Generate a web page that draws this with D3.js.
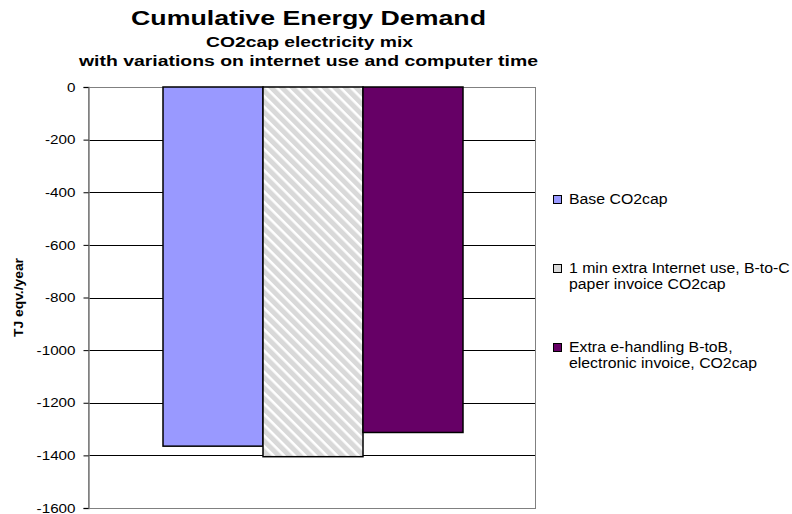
<!DOCTYPE html>
<html>
<head>
<meta charset="utf-8">
<script src="https://cdn.jsdelivr.net/npm/d3@7"></script>
<style>
  html, body { margin: 0; padding: 0; background: #fff; }
  text { font-family: "Liberation Sans", Arial, sans-serif; fill: #000; }
</style>
</head>
<body>
<svg id="chart" width="792" height="514"></svg>
<script>
// Series shown as bars within the single category group
const seriesNames = [
  "Base CO2cap",
  "1 min extra Internet use, B-to-C paper invoice CO2cap",
  "Extra e-handling B-toB, electronic invoice, CO2cap"
];
const legendLines = [
  ["Base CO2cap"],
  ["1 min extra Internet use, B-to-C", "paper invoice CO2cap"],
  ["Extra e-handling B-toB,", "electronic invoice, CO2cap"]
];
const seriesValues = [-1365, -1405, -1313];
const seriesFills = ["#9999ff", "url(#hatch)", "#660066"];
const legendFills = ["#9999ff", "#d9d9d9", "#660066"];
const yTicks = [0, -200, -400, -600, -800, -1000, -1200, -1400, -1600];

const svg = d3.select("#chart");

// widen a text element horizontally by a factor, keeping its glyphs
function stretch(sel, k) {
  sel.each(function() {
    const w = this.getComputedTextLength();
    d3.select(this).attr("textLength", w * k).attr("lengthAdjust", "spacingAndGlyphs");
  });
}

// diagonal stripe pattern for the second series (down-right stripes)
const defs = svg.append("defs");
const pat = defs.append("pattern")
  .attr("id", "hatch")
  .attr("patternUnits", "userSpaceOnUse")
  .attr("width", 7.5).attr("height", 7.5)
  .attr("patternTransform", "rotate(45)");
pat.append("rect").attr("width", 7.5).attr("height", 7.5).attr("fill", "#d9d9d9");
pat.append("rect").attr("x", 0).attr("y", 0).attr("width", 7.5).attr("height", 2.5).attr("fill", "#ffffff");

const plot = { left: 88, right: 535, top: 87, bottom: 508 };

const y = d3.scaleLinear().domain([0, -1600]).range([plot.top, plot.bottom]);
const x = d3.scaleBand().domain(seriesNames)
  .range([163, 463]).paddingInner(0).paddingOuter(0);

// gridlines
svg.append("g").selectAll("line")
  .data(yTicks.filter(d => d !== -1600 && d !== 0))
  .join("line")
  .attr("x1", plot.left).attr("x2", plot.right)
  .attr("y1", d => Math.round(y(d)) + 0.5).attr("y2", d => Math.round(y(d)) + 0.5)
  .attr("stroke", "#000").attr("stroke-width", 1);

// plot border
svg.append("rect")
  .attr("x", plot.left + 0.5).attr("y", plot.top + 0.5)
  .attr("width", plot.right - plot.left).attr("height", plot.bottom - plot.top)
  .attr("fill", "none").attr("stroke", "#808080").attr("stroke-width", 1);

// bars
svg.append("g").selectAll("rect")
  .data(seriesValues)
  .join("rect")
  .attr("x", (d, i) => x(seriesNames[i]))
  .attr("y", y(0))
  .attr("width", x.bandwidth())
  .attr("height", d => y(d) - y(0))
  .attr("fill", (d, i) => seriesFills[i])
  .attr("stroke", "#000").attr("stroke-width", 1.5);

// y axis
const yAxis = d3.axisLeft(y).tickValues(yTicks).tickSize(5).tickPadding(8)
  .tickFormat(d => String(d));
const gy = svg.append("g")
  .attr("transform", `translate(${plot.left + 0.5},0)`)
  .call(yAxis);
gy.select(".domain").attr("stroke", "#808080").attr("stroke-width", 1.5);
gy.selectAll(".tick line").attr("stroke", "#000");
gy.selectAll(".tick text")
  .attr("font-family", "Liberation Sans, Arial, sans-serif")
  .attr("font-size", 13).attr("fill", "#000")
  .call(stretch, 1.17);

// y axis title
svg.append("text")
  .attr("transform", "translate(23,297.5) rotate(-90)")
  .attr("text-anchor", "middle")
  .attr("font-size", 13).attr("font-weight", "bold")
  .attr("textLength", 79).attr("lengthAdjust", "spacingAndGlyphs")
  .text("TJ eqv./year");

// titles
svg.append("text").attr("x", 308.5).attr("y", 25)
  .attr("text-anchor", "middle").attr("font-size", 21).attr("font-weight", "bold")
  .attr("textLength", 355).attr("lengthAdjust", "spacingAndGlyphs")
  .text("Cumulative Energy Demand");
svg.append("text").attr("x", 309.5).attr("y", 47)
  .attr("text-anchor", "middle").attr("font-size", 14.5).attr("font-weight", "bold")
  .attr("textLength", 207).attr("lengthAdjust", "spacingAndGlyphs")
  .text("CO2cap electricity mix");
svg.append("text").attr("x", 308.5).attr("y", 66)
  .attr("text-anchor", "middle").attr("font-size", 14.5).attr("font-weight", "bold")
  .attr("textLength", 459).attr("lengthAdjust", "spacingAndGlyphs")
  .text("with variations on internet use and computer time");

// legend
const legendY = [204, 273, 352];
const lg = svg.append("g").selectAll("g")
  .data(legendLines)
  .join("g")
  .attr("transform", (d, i) => `translate(553,${legendY[i]})`);
lg.append("rect")
  .attr("x", 0.5).attr("y", -8.5).attr("width", 8).attr("height", 8)
  .attr("fill", (d, i) => legendFills[i])
  .attr("stroke", "#000").attr("stroke-width", 1);
lg.each(function(lines) {
  const g = d3.select(this);
  lines.forEach((ln, j) => {
    g.append("text")
      .attr("x", 16).attr("y", j * 16)
      .attr("font-size", 14)
      .text(ln)
      .call(stretch, 1.13);
  });
});
</script>
</body>
</html>
